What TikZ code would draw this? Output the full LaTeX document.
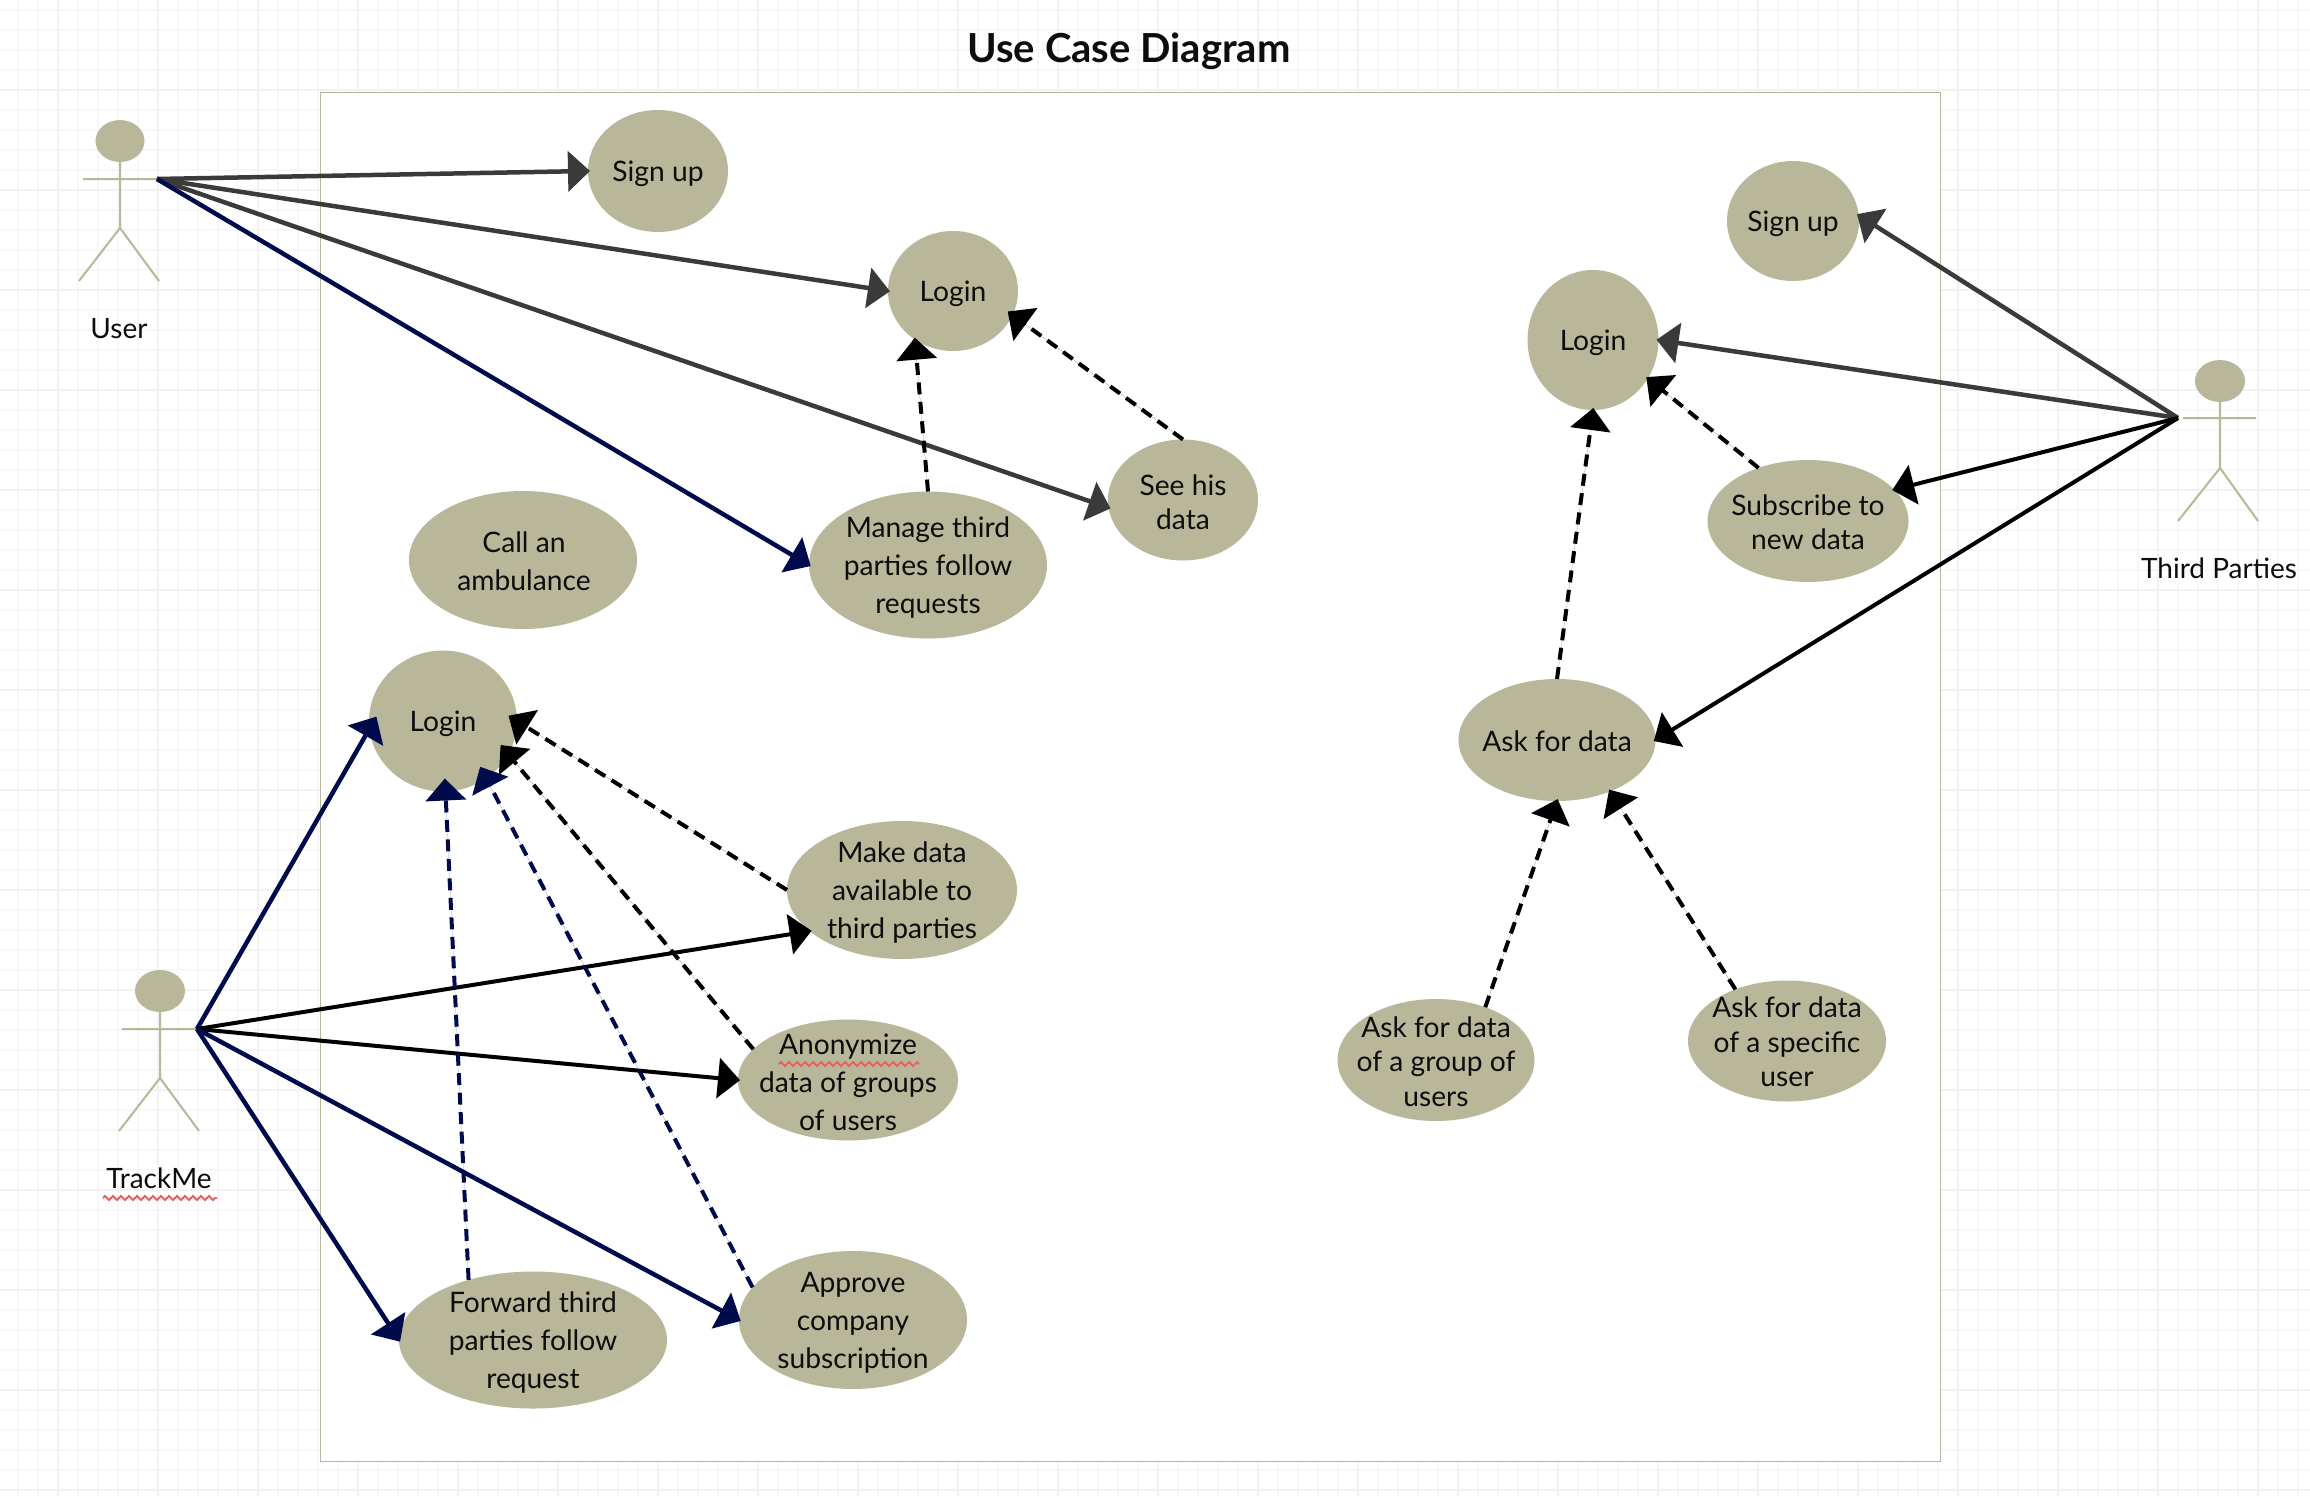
\documentclass[tikz,border=0pt]{standalone}
\usepackage{fontspec}
\setmainfont{Lato}
\usetikzlibrary{shapes.geometric,arrows.meta,decorations.pathmorphing}
\definecolor{olivefill}{HTML}{B9B799}
\definecolor{gridminor}{HTML}{F7F7F7}
\definecolor{gridmajor}{HTML}{F2F2F2}
\definecolor{navyline}{HTML}{000B4B}
\definecolor{greyline}{HTML}{3A3A3A}
\definecolor{spell}{HTML}{E8625F}
\tikzset{
  x=1pt,y=-1pt,
  usecase/.style={ellipse,fill=olivefill,inner sep=0pt,outer sep=0pt},
  caselabel/.style={inner sep=0pt,align=center,text=black!95,font=\fontsize{28.2}{38}\selectfont},
  tight/.style={font=\fontsize{28.2}{34.3}\selectfont},
  actorhead/.style={ellipse,fill=olivefill,inner sep=0pt,outer sep=0pt},
  actorline/.style={draw=olivefill,line width=2pt},
  actorlabel/.style={inner sep=0pt,text=black!95,font=\fontsize{28}{32}\selectfont},
  assoc/.style={line width=4pt,shorten >=-2pt,-{Triangle[length=22pt,width=40pt]}},
  greyarrow/.style={assoc,line width=4.5pt,draw=greyline,fill=greyline},
  navyarrow/.style={assoc,line width=4.5pt,draw=navyline,fill=navyline},
  blackarrow/.style={assoc,draw=black,fill=black},
  dep/.style={dash pattern=on 12pt off 7.5pt,shorten >=-2pt,-{Triangle[length=22pt,width=40pt]}},
  blackdep/.style={dep,line width=4pt,draw=black,fill=black},
  navydep/.style={dep,line width=4pt,draw=navyline,fill=navyline},
  squiggle/.style={draw=spell,line width=1.8pt,decorate,decoration={zigzag,segment length=8pt,amplitude=2pt}}
}
% ellipse of fixed size plus its centred text: [label opts]{name}{x,y}{w}{h}{text}
\newcommand\casenode[6][]{%
  \node[usecase,minimum width=#4pt,minimum height=#5pt] (#2) at (#3) {};
  \node[caselabel,#1] (#2text) at (#2) {#6};}
\begin{document}
\begin{tikzpicture}
\useasboundingbox (0,0) rectangle (2310,1496);
\fill[white] (0,0) rectangle (2310,1496);
% grid
\foreach \i in {0,...,115} {\draw[gridminor,line width=1.5pt] ({18+20*\i},0) -- ({18+20*\i},1496);}
\foreach \i in {0,...,74} {\draw[gridminor,line width=1.5pt] (0,{10+20*\i}) -- (2310,{10+20*\i});}
\foreach \i in {0,...,22} {\draw[gridmajor,line width=2pt] ({58+100*\i},0) -- ({58+100*\i},1496);}
\foreach \i in {0,...,14} {\draw[gridmajor,line width=2pt] (0,{90+100*\i}) -- (2310,{90+100*\i});}
% system boundary
\draw[olivefill,fill=white,line width=1pt] (320,92) rectangle (1940,1461);
\node[inner sep=0pt,font=\bfseries\fontsize{40}{44}\selectfont,text=black!95] (title) at (1129,51) {Use Case Diagram};
% use cases
\casenode[yshift=-3pt]{signupA}{658,171}{140}{122}{Sign up}
\casenode[yshift=-3pt]{loginA}{953,291}{130}{120}{Login}
\casenode[tight,yshift=-2.5pt]{seedata}{1183,500}{150}{121}{See his\\data}
\casenode[yshift=-3pt]{manage}{928,565}{238}{147}{Manage third\\parties follow\\requests}
\casenode[yshift=-1pt,xshift=1pt]{ambulance}{523,560}{228}{138}{Call an\\ambulance}
\casenode[yshift=-3pt]{loginB}{443,721}{148}{141}{Login}
\casenode[yshift=-3pt]{makedata}{902,890}{230}{138}{Make data\\available to\\third parties}
\casenode[yshift=-2pt]{anon}{848,1080}{220}{121}{Anonymize\\data of groups\\of users}
\casenode[yshift=-3pt]{approve}{853,1320}{228}{138}{Approve\\company\\subscription}
\casenode[yshift=-3pt]{forward}{533,1340}{268}{137}{Forward third\\parties follow\\request}
\casenode[yshift=-3pt]{signupC}{1793,221}{132}{120}{Sign up}
\casenode[yshift=-3pt]{loginC}{1593,340}{131}{140}{Login}
\casenode[tight,yshift=-1pt]{subscribe}{1808,521}{201}{122}{Subscribe to\\new data}
\casenode[yshift=-1.5pt]{askdata}{1557,740}{197}{122}{Ask for data}
\casenode[tight,yshift=-1.5pt]{askgroup}{1436,1060}{197}{122}{Ask for data\\of a group of\\users}
\casenode[tight,yshift=-1pt]{askuser}{1787,1041}{198}{121}{Ask for data\\of a specific\\user}
% actors
\node[actorhead,minimum width=49pt,minimum height=42pt] (userhead) at (120,141) {};
\draw[actorline] (userhead.south) -- (120,228) (83,179) -- (158,179) (79,281) -- (120,228) -- (159,281);
\coordinate (userhand) at (157,179);
\node[actorlabel] (userlabel) at (119,329) {User};
\node[actorhead,minimum width=50pt,minimum height=42pt] (trackhead) at (160,991) {};
\draw[actorline] (trackhead.south) -- (160,1078) (122,1029) -- (197,1029) (119,1131) -- (160,1078) -- (199,1131);
\coordinate (trackhand) at (197,1029);
\node[actorlabel] (tracklabel) at (159,1178) {TrackMe};
\node[actorhead,minimum width=50pt,minimum height=42pt] (thirdhead) at (2220,381) {};
\draw[actorline] (thirdhead.south) -- (2220,468) (2183,418) -- (2256,418) (2178,521) -- (2220,468) -- (2258,521);
\coordinate (thirdhand) at (2178,418);
\node[actorlabel] (thirdlabel) at (2219,568) {Third Parties};
% spell-check underlines
\coordinate (sqA) at (103,1198); \coordinate (sqB) at (217,1198);
\coordinate (sqC) at (779,1064); \coordinate (sqD) at (919,1064);
\draw[squiggle] (sqA) -- (sqB);
\draw[squiggle] (sqC) -- (sqD);
% user
\draw[greyarrow] (userhand) -- (signupA.west);
\draw[greyarrow] (userhand) -- (loginA.west);
\draw[greyarrow] (userhand) -- (seedata.186);
\draw[navyarrow] (userhand) -- (manage.west);
\draw[blackdep] (manage.north) -- (loginA.232);
\draw[blackdep,shorten >=-6pt] (seedata.north) -- (loginA.338);
% third parties
\draw[greyarrow] (thirdhand) -- (signupC.5);
\draw[greyarrow] (thirdhand) -- (loginC.east);
\draw[blackarrow] (thirdhand) -- (subscribe.20);
\draw[blackarrow] (thirdhand) -- (askdata.east);
\draw[blackdep] (subscribe.133) -- (loginC.325);
\draw[blackdep] (askdata.north) -- (loginC.south);
\draw[blackdep] (askgroup.47) -- (askdata.south);
\draw[blackdep] (askuser.135) -- (askdata.316);
% trackme
\draw[navyarrow,shorten >=-14pt] (trackhand) -- (loginB.186);
\draw[blackarrow] (trackhand) -- (makedata.204);
\draw[blackarrow] (trackhand) -- (anon.west);
\draw[navyarrow] (trackhand) -- (approve.west);
\draw[navyarrow] (trackhand) -- (forward.west);
\draw[blackdep,shorten >=-10pt] (makedata.west) -- (loginB.east);
\draw[blackdep,shorten >=-12pt] (anon.162) -- (loginB.333);
\draw[navydep,shorten >=-13pt] (forward.137) -- (loginB.272);
\draw[navydep,shorten >=-13pt] (approve.162) -- (loginB.307);
\end{tikzpicture}
\end{document}
